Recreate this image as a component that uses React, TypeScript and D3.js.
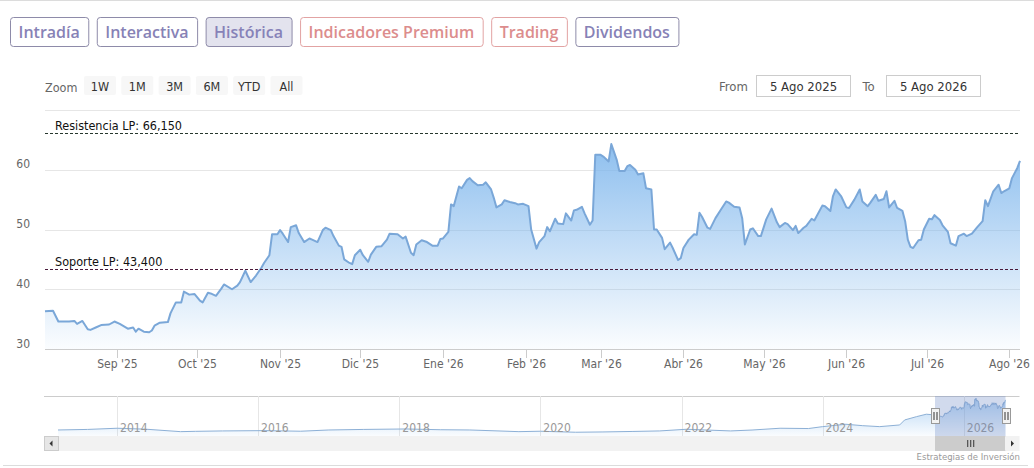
import { useMemo } from 'react'
import * as d3 from 'd3'

// Historical close prices for the selected year (5 Ago 2025 - 5 Ago 2026)
const PRICES: [string, number][] = [
  ['2025-08-05', 36.3], ['2025-08-08', 36.4], ['2025-08-10', 34.6], ['2025-08-12', 34.6],
  ['2025-08-14', 34.6], ['2025-08-16', 34.7], ['2025-08-17', 34.2], ['2025-08-19', 34.7],
  ['2025-08-21', 33.3], ['2025-08-22', 33.2], ['2025-08-24', 33.6], ['2025-08-26', 34.0],
  ['2025-08-29', 34.1], ['2025-08-31', 34.6], ['2025-09-02', 34.2], ['2025-09-05', 33.4],
  ['2025-09-07', 33.6], ['2025-09-08', 32.9], ['2025-09-09', 33.4], ['2025-09-11', 32.9],
  ['2025-09-13', 32.8], ['2025-09-14', 33.1], ['2025-09-15', 33.9], ['2025-09-17', 34.4],
  ['2025-09-20', 34.5], ['2025-09-21', 36.0], ['2025-09-23', 37.8], ['2025-09-25', 37.8],
  ['2025-09-26', 39.6], ['2025-09-28', 39.1], ['2025-09-30', 39.2], ['2025-10-02', 38.1],
  ['2025-10-03', 37.8], ['2025-10-05', 39.4], ['2025-10-06', 39.3], ['2025-10-08', 38.9],
  ['2025-10-10', 40.1], ['2025-10-11', 40.8], ['2025-10-14', 40.0], ['2025-10-16', 40.6],
  ['2025-10-17', 41.2], ['2025-10-19', 43.1], ['2025-10-21', 41.2], ['2025-10-23', 42.3],
  ['2025-10-25', 43.6], ['2025-10-26', 44.4], ['2025-10-28', 45.7], ['2025-10-29', 49.2],
  ['2025-10-31', 49.2], ['2025-11-01', 49.9], ['2025-11-02', 49.3], ['2025-11-04', 47.9],
  ['2025-11-05', 50.4], ['2025-11-07', 50.7], ['2025-11-08', 49.4], ['2025-11-10', 47.9],
  ['2025-11-12', 48.5], ['2025-11-13', 48.3], ['2025-11-15', 47.9], ['2025-11-17', 49.9],
  ['2025-11-18', 50.3], ['2025-11-20', 49.9], ['2025-11-21', 48.9], ['2025-11-23', 47.3],
  ['2025-11-24', 47.1], ['2025-11-25', 45.0], ['2025-11-27', 44.4], ['2025-11-28', 44.2],
  ['2025-11-29', 45.7], ['2025-12-01', 46.6], ['2025-12-02', 45.7], ['2025-12-04', 44.6],
  ['2025-12-05', 45.8], ['2025-12-07', 47.1], ['2025-12-09', 47.2], ['2025-12-11', 48.3],
  ['2025-12-12', 49.3], ['2025-12-15', 49.2], ['2025-12-17', 48.5], ['2025-12-18', 48.8],
  ['2025-12-20', 46.1], ['2025-12-21', 45.7], ['2025-12-22', 47.5], ['2025-12-24', 48.2],
  ['2025-12-26', 47.9], ['2025-12-28', 47.3], ['2025-12-30', 47.3], ['2025-12-31', 48.4],
  ['2026-01-01', 48.5], ['2026-01-03', 49.6], ['2026-01-04', 54.2], ['2026-01-05', 53.9],
  ['2026-01-07', 57.2], ['2026-01-08', 56.9], ['2026-01-10', 58.3], ['2026-01-11', 58.6],
  ['2026-01-12', 58.1], ['2026-01-14', 57.4], ['2026-01-16', 57.5], ['2026-01-17', 57.9],
  ['2026-01-19', 56.7], ['2026-01-20', 55.3], ['2026-01-21', 53.7], ['2026-01-23', 54.2],
  ['2026-01-24', 54.9], ['2026-01-26', 54.6], ['2026-01-28', 54.4], ['2026-01-29', 54.2],
  ['2026-01-31', 54.3], ['2026-02-02', 53.9], ['2026-02-03', 50.0], ['2026-02-05', 46.8],
  ['2026-02-06', 47.9], ['2026-02-08', 48.9], ['2026-02-09', 50.4], ['2026-02-10', 49.7],
  ['2026-02-12', 51.8], ['2026-02-13', 51.0], ['2026-02-15', 50.9], ['2026-02-16', 52.7],
  ['2026-02-18', 51.5], ['2026-02-19', 53.2], ['2026-02-20', 53.3], ['2026-02-22', 53.8],
  ['2026-02-23', 52.7], ['2026-02-25', 50.8], ['2026-02-26', 51.5], ['2026-02-27', 62.5],
  ['2026-03-01', 62.5], ['2026-03-02', 62.2], ['2026-03-04', 61.4], ['2026-03-05', 64.3],
  ['2026-03-07', 61.7], ['2026-03-08', 59.8], ['2026-03-10', 59.8], ['2026-03-11', 60.6],
  ['2026-03-12', 60.8], ['2026-03-14', 60.0], ['2026-03-15', 59.2], ['2026-03-17', 59.4],
  ['2026-03-18', 56.9], ['2026-03-20', 56.7], ['2026-03-21', 50.0], ['2026-03-22', 50.0],
  ['2026-03-24', 48.6], ['2026-03-25', 46.7], ['2026-03-27', 47.8], ['2026-03-28', 46.9],
  ['2026-03-30', 44.9], ['2026-03-31', 45.2], ['2026-04-01', 46.9], ['2026-04-03', 48.3],
  ['2026-04-05', 49.2], ['2026-04-06', 49.1], ['2026-04-07', 52.8], ['2026-04-08', 52.1],
  ['2026-04-10', 50.3], ['2026-04-11', 50.1], ['2026-04-13', 51.9], ['2026-04-15', 53.3],
  ['2026-04-17', 54.7], ['2026-04-18', 54.5], ['2026-04-20', 53.8], ['2026-04-22', 53.7],
  ['2026-04-23', 51.9], ['2026-04-24', 47.5], ['2026-04-26', 50.0], ['2026-04-27', 50.2],
  ['2026-04-29', 48.9], ['2026-04-30', 48.9], ['2026-05-02', 51.7], ['2026-05-04', 53.5],
  ['2026-05-06', 51.2], ['2026-05-07', 50.4], ['2026-05-09', 51.1], ['2026-05-10', 50.9],
  ['2026-05-12', 49.9], ['2026-05-13', 50.6], ['2026-05-14', 49.4], ['2026-05-16', 50.3],
  ['2026-05-17', 50.6], ['2026-05-19', 51.8], ['2026-05-20', 51.5], ['2026-05-23', 54.0],
  ['2026-05-24', 53.9], ['2026-05-26', 53.1], ['2026-05-27', 55.6], ['2026-05-28', 56.7],
  ['2026-05-30', 55.6], ['2026-06-01', 53.7], ['2026-06-02', 53.6], ['2026-06-04', 55.0],
  ['2026-06-06', 56.7], ['2026-06-07', 54.7], ['2026-06-09', 53.9], ['2026-06-10', 54.5],
  ['2026-06-12', 55.8], ['2026-06-13', 54.8], ['2026-06-15', 55.1], ['2026-06-16', 56.4],
  ['2026-06-17', 53.7], ['2026-06-19', 54.8], ['2026-06-20', 53.6], ['2026-06-22', 53.1],
  ['2026-06-23', 51.4], ['2026-06-24', 48.3], ['2026-06-25', 47.1], ['2026-06-26', 46.9],
  ['2026-06-28', 48.2], ['2026-06-29', 48.3], ['2026-06-30', 50.0], ['2026-07-02', 51.8],
  ['2026-07-03', 51.7], ['2026-07-04', 52.4], ['2026-07-06', 51.6], ['2026-07-07', 50.7],
  ['2026-07-09', 49.6], ['2026-07-10', 47.7], ['2026-07-12', 47.3], ['2026-07-13', 48.9],
  ['2026-07-15', 49.3], ['2026-07-16', 48.9], ['2026-07-18', 49.3], ['2026-07-20', 50.4],
  ['2026-07-22', 51.4], ['2026-07-23', 54.9], ['2026-07-24', 53.9], ['2026-07-26', 56.4],
  ['2026-07-28', 57.5], ['2026-07-29', 56.1], ['2026-07-30', 56.4], ['2026-08-01', 56.9],
  ['2026-08-02', 58.6], ['2026-08-04', 60.3], ['2026-08-05', 61.5],
]

// Long history shown only in the navigator
const HISTORY: [string, number][] = [
  ['2013-03-01', 11.1], ['2013-08-01', 12.0], ['2014-01-01', 14.0], ['2014-05-25', 12.5],
  ['2014-11-25', 8.3], ['2015-02-10', 8.8], ['2015-07-01', 9.5], ['2016-02-06', 10.0],
  ['2016-08-08', 9.0], ['2017-01-01', 11.1], ['2017-07-01', 12.0], ['2018-02-06', 12.8],
  ['2018-08-01', 11.5], ['2019-01-01', 11.1], ['2019-09-12', 8.3], ['2020-01-01', 9.0],
  ['2020-07-01', 7.3], ['2020-11-20', 7.8], ['2021-04-20', 8.6], ['2021-09-10', 9.5],
  ['2022-01-26', 12.3], ['2022-09-12', 9.5], ['2023-01-01', 11.0], ['2023-05-26', 14.0],
  ['2023-10-20', 13.5], ['2024-01-01', 16.7], ['2024-05-01', 20.7], ['2024-07-27', 18.3],
  ['2024-10-23', 16.7], ['2025-02-03', 19.5], ['2025-03-01', 27.9], ['2025-05-01', 33.4],
  ['2025-06-21', 37.5],
]

const Y_TICKS = [30, 40, 50, 60, 70]
const MONTHS_ES = ['Ene', 'Feb', 'Mar', 'Abr', 'May', 'Jun', 'Jul', 'Ago', 'Sep', 'Oct', 'Nov', 'Dic']
const NAV_YEARS = [2014, 2016, 2018, 2020, 2022, 2024, 2026]
const RANGE_FROM = '5 Ago 2025'
const RANGE_TO = '5 Ago 2026'
const LEVELS = [
  { label: 'Resistencia LP: 66,150', value: 66.15, color: '#27372d' },
  { label: 'Soporte LP: 43,400', value: 43.4, color: '#4a1a3a' },
]
const TABS = [
  { label: 'Intradía', tone: 'plain' },
  { label: 'Interactiva', tone: 'plain' },
  { label: 'Histórica', tone: 'active' },
  { label: 'Indicadores Premium', tone: 'premium' },
  { label: 'Trading', tone: 'premium' },
  { label: 'Dividendos', tone: 'plain' },
]
const ZOOM_BUTTONS = ['1W', '1M', '3M', '6M', 'YTD', 'All']

const W = 1034
const H = 468
const CHART_FONT = "'DejaVu Sans Condensed', 'DejaVu Sans', sans-serif"
const TAB_FONT = "600 16px 'Open Sans', sans-serif"

const parse = d3.timeParse('%Y-%m-%d')

function textWidth(text: string, font: string) {
  const ctx = document.createElement('canvas').getContext('2d')
  if (!ctx) return text.length * 8
  ctx.font = font
  return ctx.measureText(text).width
}

export default function App() {
  const main = useMemo(() => PRICES.map(([d, v]) => ({ date: parse(d)!, value: v })), [])
  const nav = useMemo(
    () => [...HISTORY, ...PRICES].map(([d, v]) => ({ date: parse(d)!, value: v })),
    []
  )

  const start = main[0].date
  const end = main[main.length - 1].date

  // main plot
  const plot = { left: 45, right: 1020, top: 110, bottom: 349 }
  const x = d3.scaleTime().domain([start, end]).range([plot.left, plot.right])
  const y = d3.scaleLinear().domain([30, 70]).range([plot.bottom, plot.top])

  const area = d3.area<{ date: Date; value: number }>()
    .x(d => x(d.date))
    .y0(plot.bottom)
    .y1(d => y(d.value))
  const line = d3.line<{ date: Date; value: number }>()
    .x(d => x(d.date))
    .y(d => y(d.value))

  const monthTicks = d3.timeMonth.range(d3.timeMonth.ceil(start), end)

  // navigator
  const navBox = { left: 44, right: 1019.5, top: 396, bottom: 436, btn: 14 }
  const nx = d3.scaleTime()
    .domain([nav[0].date, end])
    .range([navBox.left + navBox.btn, navBox.right - navBox.btn])
  const ny = d3.scaleLinear().domain([1, 68]).range([navBox.bottom, navBox.top])
  const navArea = d3.area<{ date: Date; value: number }>()
    .x(d => nx(d.date))
    .y0(navBox.bottom)
    .y1(d => ny(d.value))
  const navLine = d3.line<{ date: Date; value: number }>()
    .x(d => nx(d.date))
    .y(d => ny(d.value))
  const selA = nx(start)
  const selB = nx(end)

  // tabs
  const tabs = useMemo(() => {
    let cx = 10
    return TABS.map(t => {
      const w = textWidth(t.label, TAB_FONT) + 17
      const item = { ...t, x: cx, w }
      cx += w + 8.5
      return item
    })
  }, [])

  const toneStyle = (tone: string) => {
    if (tone === 'premium') return { stroke: '#e2a3a3', fill: '#fff', text: '#dc8d8d' }
    if (tone === 'active') return { stroke: '#8e8ba9', fill: '#e3e3ee', text: '#8782b8' }
    return { stroke: '#8e8ba9', fill: '#fff', text: '#8782b6' }
  }

  const handle = (hx: number) => (
    <g key={hx}>
      <rect x={hx - 4} y={408.5} width={8} height={15} fill="#f2f2f2" stroke="#999" />
      <line x1={hx - 1.5} x2={hx - 1.5} y1={412} y2={420} stroke="#333" />
      <line x1={hx + 1.5} x2={hx + 1.5} y1={412} y2={420} stroke="#333" />
    </g>
  )

  return (
    <div style={{ position: 'absolute', left: 0, top: 0 }}>
      <svg width={W} height={H} style={{ display: 'block', background: '#fff' }}>
        <defs>
          <linearGradient id="mainFill" gradientUnits="userSpaceOnUse" x1={0} y1={plot.top} x2={0} y2={plot.bottom}>
            <stop offset="0" stopColor="#7cb5ec" stopOpacity={1} />
            <stop offset="1" stopColor="#7cb5ec" stopOpacity={0.03} />
          </linearGradient>
          <linearGradient id="navFill" gradientUnits="userSpaceOnUse" x1={0} y1={navBox.top} x2={0} y2={navBox.bottom}>
            <stop offset="0" stopColor="#7cb5ec" stopOpacity={0.6} />
            <stop offset="1" stopColor="#7cb5ec" stopOpacity={0.04} />
          </linearGradient>
        </defs>

        <line x1={0} x2={W} y1={0.5} y2={0.5} stroke="#dcdcdc" />

        {/* tabs */}
        {tabs.map(t => {
          const s = toneStyle(t.tone)
          return (
            <g key={t.label}>
              <rect x={t.x + 0.5} y={17.5} width={t.w} height={29} rx={3} fill={s.fill} stroke={s.stroke} />
              <text
                x={t.x + t.w / 2}
                y={38}
                textAnchor="middle"
                fill={s.text}
                style={{ font: TAB_FONT }}
              >
                {t.label}
              </text>
            </g>
          )
        })}

        {/* range selector */}
        <g fontFamily={CHART_FONT} fontSize={12.5}>
          <text x={45} y={92} fill="#666">Zoom</text>
          {ZOOM_BUTTONS.map((b, i) => {
            const bx = 84 + i * 37.3
            return (
              <g key={b}>
                <rect x={bx} y={76} width={32} height={19} rx={2} fill="#f7f7f7" />
                <text x={bx + 16} y={91} textAnchor="middle" fill="#333">{b}</text>
              </g>
            )
          })}
          <text x={719} y={90.5} fill="#666" fontSize={13}>From</text>
          <rect x={756.5} y={75.5} width={94} height={21} fill="#fff" stroke="#ccc" />
          <text x={803.5} y={90.5} textAnchor="middle" fill="#333" fontSize={13}>{RANGE_FROM}</text>
          <text x={862.5} y={90.5} fill="#666" fontSize={13}>To</text>
          <rect x={886.5} y={75.5} width={94} height={21} fill="#fff" stroke="#ccc" />
          <text x={933.5} y={90.5} textAnchor="middle" fill="#333" fontSize={13}>{RANGE_TO}</text>
        </g>

        {/* grid */}
        {Y_TICKS.map(t => (
          <line key={t} x1={plot.left} x2={plot.right} y1={Math.round(y(t)) + 0.5} y2={Math.round(y(t)) + 0.5} stroke="#e6e6e6" />
        ))}

        {/* series */}
        <path d={area(main)!} fill="url(#mainFill)" />
        <path d={line(main)!} fill="none" stroke="#7aa7d8" strokeWidth={2} strokeLinejoin="round" />

        {/* x axis */}
        <line x1={plot.left} x2={plot.right} y1={plot.bottom + 0.5} y2={plot.bottom + 0.5} stroke="#ccc" />
        <g fontFamily={CHART_FONT} fontSize={12} fill="#666">
          {monthTicks.map(m => {
            const tx = Math.round(x(m)) + 0.5
            return (
              <g key={m.getTime()}>
                <line x1={tx} x2={tx} y1={plot.bottom} y2={plot.bottom + 9} stroke="#ccc" />
                <text x={tx} y={368} textAnchor="middle">
                  {`${MONTHS_ES[m.getMonth()]} '${String(m.getFullYear()).slice(2)}`}
                </text>
              </g>
            )
          })}
          {Y_TICKS.slice(0, -1).map(t => (
            <text key={t} x={30} y={y(t) - 1.5} textAnchor="end">{t}</text>
          ))}
        </g>

        {/* support / resistance */}
        {LEVELS.map(l => {
          const ly = Math.round(y(l.value)) + 0.5
          return (
            <g key={l.label}>
              <line x1={plot.left} x2={plot.right} y1={ly} y2={ly} stroke={l.color} strokeDasharray="3,2" />
              <text x={55} y={ly - 4} fill="#111" fontFamily={CHART_FONT} fontSize={12.5}>{l.label}</text>
            </g>
          )
        })}

        {/* navigator */}
        <line x1={navBox.left} x2={navBox.right} y1={navBox.top + 0.5} y2={navBox.top + 0.5} stroke="#ccc" />
        {NAV_YEARS.map(yr => {
          const gx = Math.round(nx(new Date(yr, 0, 1))) + 0.5
          return (
            <line key={yr} x1={gx} x2={gx} y1={navBox.top} y2={navBox.bottom} stroke="#e6e6e6" />
          )
        })}
        <path d={navArea(nav)!} fill="url(#navFill)" />
        <path d={navLine(nav)!} fill="none" stroke="#8db0d6" strokeWidth={1} />
        <g fontFamily={CHART_FONT} fontSize={12} fill="#999">
          {NAV_YEARS.map(yr => (
            <text key={yr} x={nx(new Date(yr, 0, 1)) + 3} y={432}>{yr}</text>
          ))}
        </g>
        <rect x={selA} y={navBox.top} width={selB - selA} height={navBox.bottom - navBox.top} fill="rgba(102,133,194,0.3)" />
        {handle(Math.round(selA) + 0.5)}
        {handle(Math.round(selB) + 0.5)}

        {/* scrollbar */}
        <rect x={navBox.left} y={navBox.bottom} width={navBox.right - navBox.left} height={15} fill="#f2f2f2" />
        <rect x={selA} y={navBox.bottom} width={selB - selA} height={15} fill="#cccccc" />
        {[-3, 0, 3].map(o => (
          <line key={o} x1={(selA + selB) / 2 + o + 0.5} x2={(selA + selB) / 2 + o + 0.5} y1={440} y2={447} stroke="#333" />
        ))}
        <rect x={navBox.left + 0.5} y={navBox.bottom + 0.5} width={navBox.btn} height={14} fill="#e6e6e6" stroke="#ccc" />
        <path d={`M${navBox.left + 8.5},${440.5} L${navBox.left + 5.5},${443.5} L${navBox.left + 8.5},${446.5} Z`} fill="#333" />
        <rect x={navBox.right - navBox.btn - 0.5} y={navBox.bottom + 0.5} width={navBox.btn} height={14} fill="#f2f2f2" />
        <path d={`M${navBox.right - 8.5},${440.5} L${navBox.right - 5.5},${443.5} L${navBox.right - 8.5},${446.5} Z`} fill="#333" />

        <text x={1020} y={460} textAnchor="end" fill="#999" fontFamily={CHART_FONT} fontSize={9.5}>
          Estrategias de Inversión
        </text>
        <line x1={3} x2={1028} y1={465.5} y2={465.5} stroke="#dcdcdc" />
      </svg>
    </div>
  )
}
